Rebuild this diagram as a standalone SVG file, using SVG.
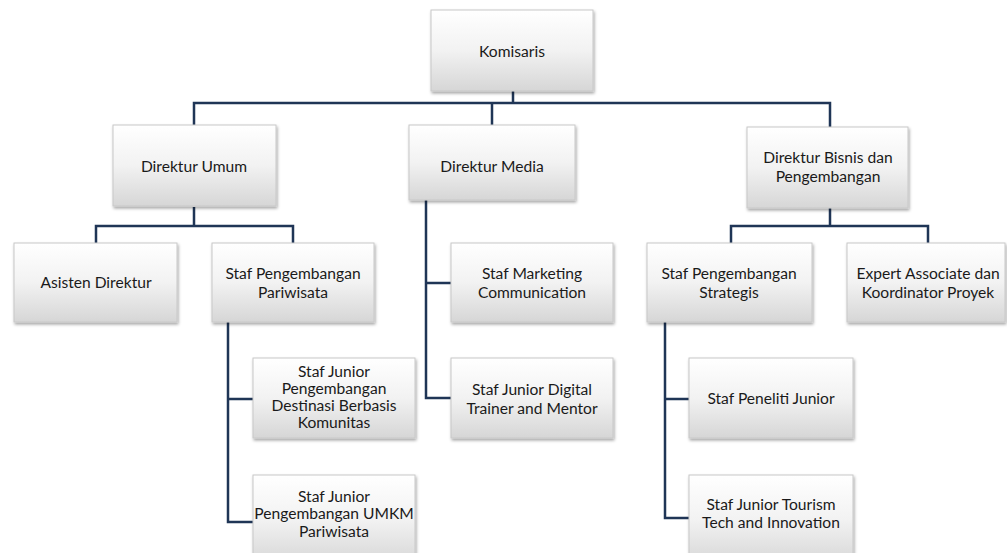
<svg xmlns="http://www.w3.org/2000/svg" width="1007" height="553" viewBox="0 0 1007 553">
<style>
.box{fill:url(#g);stroke:#c8c8c8;stroke-width:1;filter:url(#sh)}
.t{font-family:Lato,"Open Sans",sans-serif;font-size:15.6px;fill:#1a1a1a;text-anchor:middle}
.c{fill:none;stroke:#1f3556;stroke-width:2.5}
</style>
<defs>
<linearGradient id="g" x1="0" y1="0" x2="0" y2="1">
<stop offset="0" stop-color="#ffffff"/>
<stop offset="0.5" stop-color="#f2f2f2"/>
<stop offset="1" stop-color="#d6d6d6"/>
</linearGradient>
<filter id="sh" x="-10%" y="-10%" width="130%" height="130%">
<feDropShadow dx="1" dy="2" stdDeviation="1.5" flood-color="#000" flood-opacity="0.35"/>
</filter>
</defs>
<rect width="1007" height="553" fill="#fff"/>
<g id="connectors">
<path class="c" d="M513 91V103M194 125V103H830V127M492 103V125"/>
<path class="c" d="M194 207V226M96 243V226H293V243"/>
<path class="c" d="M228 322V522H253M228 399H253"/>
<path class="c" d="M426 200V398H451M426 283H451"/>
<path class="c" d="M830 208V226M731 243V226H928V243"/>
<path class="c" d="M665 322V518H689M665 399H689"/>
</g>
<g id="komisaris"><rect class="box" x="431" y="10" width="162" height="81"/><text class="t" x="512" y="57">Komisaris</text></g>
<g id="direktur-umum"><rect class="box" x="113" y="125" width="163" height="81"/><text class="t" x="194" y="172">Direktur Umum</text></g>
<g id="direktur-media"><rect class="box" x="409" y="125" width="166" height="75"/><text class="t" x="492" y="172">Direktur Media</text></g>
<g id="direktur-bisnis"><rect class="box" x="747" y="127" width="161" height="81"/><text class="t" x="828" y="163">Direktur Bisnis dan</text><text class="t" x="828" y="182">Pengembangan</text></g>
<g id="asisten-direktur"><rect class="box" x="14" y="243" width="163" height="79"/><text class="t" x="96" y="288">Asisten Direktur</text></g>
<g id="staf-pariwisata"><rect class="box" x="212" y="243" width="162" height="79"/><text class="t" x="293" y="279">Staf Pengembangan</text><text class="t" x="293" y="298">Pariwisata</text></g>
<g id="staf-marketing"><rect class="box" x="451" y="243" width="162" height="79"/><text class="t" x="532" y="279">Staf Marketing</text><text class="t" x="532" y="298">Communication</text></g>
<g id="staf-strategis"><rect class="box" x="647" y="243" width="165" height="79"/><text class="t" x="729" y="279">Staf Pengembangan</text><text class="t" x="729" y="298">Strategis</text></g>
<g id="expert-associate"><rect class="box" x="847" y="243" width="158" height="79"/><text class="t" x="928" y="279">Expert Associate dan</text><text class="t" x="928" y="298">Koordinator Proyek</text></g>
<g id="staf-junior-destinasi"><rect class="box" x="253" y="358" width="162" height="80"/><text class="t" x="334" y="377">Staf Junior</text><text class="t" x="334" y="394">Pengembangan</text><text class="t" x="334" y="411">Destinasi Berbasis</text><text class="t" x="334" y="428">Komunitas</text></g>
<g id="staf-junior-digital"><rect class="box" x="451" y="358" width="162" height="80"/><text class="t" x="532" y="395">Staf Junior Digital</text><text class="t" x="532" y="414">Trainer and Mentor</text></g>
<g id="staf-peneliti-junior"><rect class="box" x="689" y="358" width="164" height="80"/><text class="t" x="771" y="404">Staf Peneliti Junior</text></g>
<g id="staf-junior-umkm"><rect class="box" x="253" y="475" width="162" height="90"/><text class="t" x="334" y="502">Staf Junior</text><text class="t" x="334" y="519">Pengembangan UMKM</text><text class="t" x="334" y="537">Pariwisata</text></g>
<g id="staf-junior-tourism"><rect class="box" x="689" y="475" width="164" height="90"/><text class="t" x="771" y="510">Staf Junior Tourism</text><text class="t" x="771" y="528">Tech and Innovation</text></g>
</svg>
